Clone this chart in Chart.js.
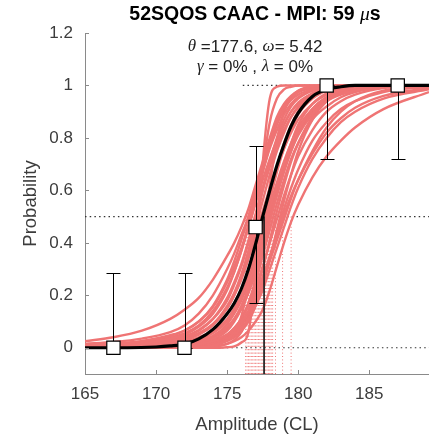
<!DOCTYPE html>
<html>
<head>
<meta charset="utf-8">
<script src="https://cdn.jsdelivr.net/npm/chart.js@4.4.0/dist/chart.umd.min.js"></script>
<style>
  html, body { margin: 0; padding: 0; background: #fff; }
  #wrap { width: 429px; height: 434px; }
</style>
</head>
<body>
<div id="wrap"><canvas id="chartPsych" width="429" height="434"></canvas></div>
<script>
// ---- values ----
const xTicks = [165, 170, 175, 180, 185];
const yTicks = [0, 0.2, 0.4, 0.6, 0.8, 1, 1.2];

// measured points + confidence bars
const levels  = [167, 172, 177, 182, 187];
const hitRate = [0, 0, 0.46, 1, 1];
const ciLow   = [0, 0, 0.17, 0.72, 0.72];
const ciHigh  = [0.285, 0.285, 0.77, 1, 1];

// fitted curve (black)
const fitX = [165, 168, 170, 171, 172, 173, 174, 175, 175.5, 176, 176.5, 177, 177.5, 178, 178.5, 179, 179.5, 180, 181, 182, 183, 184, 186, 189.2];
const fitY = [0, 0, 0.003, 0.007, 0.014, 0.034, 0.07, 0.13, 0.17, 0.225, 0.30, 0.395, 0.50, 0.60, 0.695, 0.775, 0.845, 0.895, 0.958, 0.985, 0.995, 1, 1, 1];
const threshold = 177.6;

// bootstrap curves (red), sampled on a common grid
const bootX = [165, 167, 169, 171, 172, 173, 174, 175, 175.5, 176, 176.5, 177, 177.5, 178, 178.5, 179, 179.5, 180, 181, 182, 183, 184, 186, 189.2];
const boot01 = [0.025, 0.04, 0.065, 0.11, 0.145, 0.19, 0.26, 0.35, 0.4, 0.46, 0.53, 0.62, 0.71, 0.8, 0.88, 0.93, 0.96, 0.98, 0.995, 1, 1, 1, 1, 1];
const boot02 = [0.015, 0.022, 0.035, 0.06, 0.085, 0.13, 0.2, 0.3, 0.36, 0.43, 0.5, 0.59, 0.69, 0.78, 0.86, 0.92, 0.955, 0.975, 0.99, 0.997, 1, 1, 1, 1];
const boot03 = [0.01, 0.015, 0.025, 0.045, 0.065, 0.1, 0.16, 0.26, 0.33, 0.41, 0.5, 0.6, 0.7, 0.79, 0.86, 0.91, 0.945, 0.965, 0.985, 0.995, 1, 1, 1, 1];
const boot04 = [0.005, 0.01, 0.018, 0.035, 0.05, 0.08, 0.13, 0.22, 0.29, 0.37, 0.47, 0.57, 0.67, 0.76, 0.83, 0.89, 0.93, 0.955, 0.98, 0.992, 0.998, 1, 1, 1];
const boot05 = [0.004, 0.008, 0.014, 0.028, 0.04, 0.065, 0.11, 0.19, 0.25, 0.32, 0.41, 0.51, 0.61, 0.7, 0.78, 0.85, 0.9, 0.935, 0.97, 0.988, 0.996, 1, 1, 1];
const boot06 = [0.002, 0.005, 0.01, 0.02, 0.03, 0.05, 0.085, 0.15, 0.2, 0.27, 0.36, 0.46, 0.56, 0.66, 0.75, 0.82, 0.88, 0.92, 0.965, 0.985, 0.995, 1, 1, 1];
const boot07 = [0, 0, 0, 0, 0, 0, 0, 0.002, 0.005, 0.02, 0.06, 0.3, 0.7, 0.95, 0.995, 1, 1, 1, 1, 1, 1, 1, 1, 1];
const boot08 = [0, 0, 0, 0, 0, 0.002, 0.008, 0.03, 0.06, 0.12, 0.25, 0.45, 0.68, 0.86, 0.95, 0.985, 0.995, 1, 1, 1, 1, 1, 1, 1];
const boot09 = [0.003, 0.006, 0.012, 0.025, 0.035, 0.055, 0.09, 0.15, 0.2, 0.26, 0.34, 0.43, 0.52, 0.61, 0.69, 0.76, 0.82, 0.87, 0.93, 0.965, 0.982, 0.991, 0.998, 1];
const boot10 = [0.002, 0.004, 0.008, 0.016, 0.024, 0.04, 0.065, 0.11, 0.15, 0.2, 0.27, 0.35, 0.44, 0.53, 0.62, 0.7, 0.77, 0.83, 0.91, 0.955, 0.978, 0.99, 0.997, 1];
const boot11 = [0.001, 0.002, 0.005, 0.01, 0.015, 0.025, 0.045, 0.08, 0.11, 0.15, 0.21, 0.29, 0.38, 0.48, 0.58, 0.67, 0.75, 0.82, 0.91, 0.955, 0.98, 0.99, 0.997, 1];
const boot12 = [0, 0.001, 0.002, 0.005, 0.008, 0.014, 0.025, 0.05, 0.07, 0.1, 0.14, 0.2, 0.27, 0.35, 0.43, 0.51, 0.58, 0.64, 0.74, 0.82, 0.875, 0.915, 0.96, 0.99];
const boot13 = [0, 0, 0, 0.001, 0.001, 0.002, 0.005, 0.015, 0.025, 0.04, 0.065, 0.1, 0.145, 0.22, 0.31, 0.4, 0.48, 0.545, 0.65, 0.73, 0.79, 0.84, 0.91, 0.975];
const boot14 = [0, 0, 0.001, 0.003, 0.006, 0.012, 0.025, 0.05, 0.075, 0.11, 0.16, 0.23, 0.31, 0.4, 0.49, 0.58, 0.66, 0.73, 0.83, 0.9, 0.94, 0.965, 0.99, 1];
const boot15 = [0, 0, 0, 0.002, 0.004, 0.009, 0.02, 0.045, 0.07, 0.11, 0.17, 0.26, 0.37, 0.49, 0.6, 0.7, 0.78, 0.85, 0.93, 0.97, 0.988, 0.996, 1, 1];
const boot16 = [0.001, 0.003, 0.006, 0.012, 0.018, 0.03, 0.055, 0.1, 0.14, 0.19, 0.27, 0.37, 0.48, 0.59, 0.69, 0.78, 0.85, 0.9, 0.96, 0.985, 0.995, 1, 1, 1];
const boot17 = [0, 0.001, 0.003, 0.007, 0.011, 0.02, 0.038, 0.075, 0.11, 0.16, 0.23, 0.33, 0.44, 0.56, 0.67, 0.76, 0.83, 0.89, 0.95, 0.98, 0.993, 1, 1, 1];
const boot18 = [0, 0, 0.001, 0.004, 0.007, 0.014, 0.03, 0.065, 0.1, 0.15, 0.22, 0.31, 0.41, 0.51, 0.6, 0.68, 0.75, 0.81, 0.89, 0.94, 0.965, 0.98, 0.995, 1];
const boot19 = [0, 0, 0.001, 0.003, 0.005, 0.01, 0.02, 0.04, 0.06, 0.09, 0.14, 0.21, 0.3, 0.41, 0.52, 0.62, 0.71, 0.78, 0.88, 0.94, 0.97, 0.985, 0.997, 1];
const boot20 = [0.006, 0.012, 0.022, 0.04, 0.055, 0.085, 0.14, 0.23, 0.29, 0.37, 0.46, 0.56, 0.67, 0.77, 0.85, 0.91, 0.95, 0.975, 0.993, 1, 1, 1, 1, 1];
const boot21 = [0.008, 0.014, 0.025, 0.048, 0.066, 0.1, 0.155, 0.25, 0.31, 0.38, 0.46, 0.55, 0.64, 0.72, 0.79, 0.85, 0.9, 0.93, 0.97, 0.988, 0.996, 1, 1, 1];
const boot22 = [0.001, 0.002, 0.004, 0.009, 0.014, 0.024, 0.045, 0.09, 0.13, 0.18, 0.25, 0.34, 0.44, 0.54, 0.63, 0.71, 0.78, 0.84, 0.91, 0.95, 0.975, 0.988, 0.997, 1];
const boot23 = [0, 0, 0.001, 0.002, 0.004, 0.008, 0.016, 0.035, 0.05, 0.075, 0.11, 0.16, 0.22, 0.3, 0.38, 0.46, 0.54, 0.61, 0.72, 0.8, 0.86, 0.9, 0.95, 0.985];
const boot24 = [0, 0, 0, 0.001, 0.002, 0.005, 0.012, 0.03, 0.045, 0.07, 0.11, 0.17, 0.25, 0.34, 0.44, 0.53, 0.61, 0.68, 0.79, 0.86, 0.91, 0.94, 0.975, 0.995];
const boot25 = [0, 0, 0.001, 0.003, 0.005, 0.01, 0.022, 0.05, 0.075, 0.11, 0.17, 0.25, 0.35, 0.45, 0.55, 0.64, 0.72, 0.78, 0.87, 0.92, 0.955, 0.975, 0.993, 1];
const boot26 = [0.001, 0.002, 0.004, 0.008, 0.012, 0.02, 0.038, 0.075, 0.105, 0.15, 0.21, 0.29, 0.39, 0.49, 0.59, 0.68, 0.76, 0.82, 0.9, 0.945, 0.97, 0.985, 0.997, 1];
const boot27 = [0, 0, 0, 0.001, 0.002, 0.004, 0.01, 0.025, 0.04, 0.065, 0.1, 0.16, 0.24, 0.34, 0.45, 0.56, 0.66, 0.75, 0.87, 0.94, 0.975, 0.99, 1, 1];
const boot28 = [0.002, 0.004, 0.008, 0.015, 0.022, 0.036, 0.06, 0.105, 0.14, 0.19, 0.26, 0.35, 0.46, 0.57, 0.68, 0.77, 0.845, 0.9, 0.96, 0.985, 0.995, 1, 1, 1];
const boot29 = [0, 0, 0, 0, 0, 0.001, 0.004, 0.015, 0.03, 0.06, 0.12, 0.24, 0.42, 0.62, 0.79, 0.9, 0.955, 0.98, 0.997, 1, 1, 1, 1, 1];
const boot30 = [0.003, 0.006, 0.012, 0.024, 0.034, 0.054, 0.09, 0.16, 0.21, 0.28, 0.37, 0.48, 0.6, 0.71, 0.8, 0.87, 0.92, 0.95, 0.98, 0.993, 1, 1, 1, 1];
const boot31 = [0, 0.001, 0.002, 0.004, 0.006, 0.011, 0.02, 0.04, 0.058, 0.085, 0.125, 0.18, 0.25, 0.33, 0.41, 0.49, 0.57, 0.64, 0.75, 0.84, 0.9, 0.94, 0.98, 0.997];
const boot32 = [0.004, 0.008, 0.015, 0.03, 0.043, 0.068, 0.11, 0.18, 0.24, 0.31, 0.4, 0.5, 0.6, 0.69, 0.77, 0.83, 0.88, 0.915, 0.96, 0.982, 0.993, 0.998, 1, 1];
const bootCurves = [boot01, boot02, boot03, boot04, boot05, boot06, boot07, boot08, boot09, boot10, boot11,
                    boot12, boot13, boot14, boot15, boot16, boot17, boot18, boot19, boot20, boot21, boot22,
                    boot23, boot24, boot25, boot26, boot27, boot28, boot29, boot30, boot31, boot32];

// thresholds of the bootstrap fits (red dotted verticals)
const bootThresholds = [176.3, 176.4, 176.5, 176.6, 176.7, 176.8, 176.9, 177.0, 177.1, 177.2, 177.3, 177.4,
                        177.5, 177.6, 177.7, 177.8, 177.9, 178.0, 178.1, 178.2, 178.4, 178.9, 179.5];

// ---- styles ----
const sans = "'Liberation Sans', Arial, Helvetica, sans-serif";
const serif = "'Liberation Serif', 'DejaVu Serif', serif";
const axisGray = '#8a8a8a';
const labelGray = '#3c3c3c';
const red = '#EF7474';

const pts = (xs, ys) => xs.map((x, i) => ({ x: x, y: ys[i] }));
const vline = (x, color, width, dash) => ({
    data: [{ x: x, y: 0.5 }, { x: x, y: -0.1 }],
    borderColor: color, borderWidth: width, borderDash: dash || [], pointRadius: 0
});
const hline = (y, x0) => ({
    data: [{ x: x0, y: y }, { x: 189.2, y: y }],
    borderColor: '#333', borderWidth: 1.2, borderDash: [1.5, 3.2], pointRadius: 0
});

function richLine(ctx, parts, cx, cy) {
    let total = 0;
    parts.forEach(p => { ctx.font = p.f; p.w = ctx.measureText(p.t).width; total += p.w; });
    let x = cx - total / 2;
    ctx.textAlign = 'left';
    ctx.textBaseline = 'middle';
    parts.forEach(p => { ctx.font = p.f; ctx.fillText(p.t, x, cy); x += p.w; });
}

// error bars: drawn right after the black fit, before the squares
const errorBars = {
    id: 'errorBars',
    afterDatasetDraw(chart, args) {
        if (args.index !== 1) return;
        const { ctx, scales: { x, y } } = chart;
        ctx.save();
        ctx.strokeStyle = '#000';
        ctx.lineWidth = 1;
        levels.forEach((lv, i) => {
            const px = Math.round(x.getPixelForValue(lv)) + 0.5;
            const lo = Math.round(y.getPixelForValue(ciLow[i])) + 0.5;
            const hi = Math.round(y.getPixelForValue(ciHigh[i])) + 0.5;
            ctx.beginPath();
            ctx.moveTo(px, lo); ctx.lineTo(px, hi);
            ctx.moveTo(px - 7, lo); ctx.lineTo(px + 7, lo);
            ctx.moveTo(px - 7, hi); ctx.lineTo(px + 7, hi);
            ctx.stroke();
        });
        ctx.restore();
    }
};

// inward tick marks + title + parameter text
const decorations = {
    id: 'decorations',
    afterDraw(chart) {
        const { ctx, chartArea: a, scales: { x, y } } = chart;
        ctx.save();
        ctx.strokeStyle = axisGray;
        ctx.lineWidth = 1;
        ctx.beginPath();
        yTicks.forEach(v => {
            const py = Math.round(y.getPixelForValue(v)) + 0.5;
            ctx.moveTo(a.left, py); ctx.lineTo(a.left + 4, py);
        });
        xTicks.forEach(v => {
            const px = Math.round(x.getPixelForValue(v)) + 0.5;
            ctx.moveTo(px, a.bottom); ctx.lineTo(px, a.bottom - 4);
        });
        ctx.stroke();

        const cx = (a.left + a.right) / 2 - 2;
        ctx.fillStyle = '#000';
        richLine(ctx, [
            { t: '52SQOS CAAC - MPI: 59 ', f: 'bold 19.5px ' + sans },
            { t: 'μ', f: 'italic 19.5px ' + serif },
            { t: 's', f: 'bold 19.5px ' + sans }
        ], cx, 15);
        ctx.fillStyle = '#222';
        richLine(ctx, [
            { t: 'θ', f: 'italic 17px ' + serif },
            { t: ' =177.6, ', f: '17px ' + sans },
            { t: 'ω', f: 'italic 17px ' + serif },
            { t: '= 5.42', f: '17px ' + sans }
        ], cx, 47);
        richLine(ctx, [
            { t: 'γ', f: 'italic 17px ' + serif },
            { t: ' = 0% , ', f: '17px ' + sans },
            { t: 'λ', f: 'italic 17px ' + serif },
            { t: ' = 0%', f: '17px ' + sans }
        ], cx, 67);
        ctx.restore();
    }
};

const datasets = [
    {   // measured proportions
        data: pts(levels, hitRate), showLine: false, pointStyle: 'rect', pointRadius: 9.4,
        pointBackgroundColor: '#fff', pointBorderColor: '#000', pointBorderWidth: 1.2
    },
    {   // best fit
        data: pts(fitX, fitY), borderColor: '#000', borderWidth: 3.2, pointRadius: 0,
        cubicInterpolationMode: 'monotone'
    },
    vline(threshold, '#222', 1)
];
bootCurves.forEach(c => datasets.push({
    data: pts(bootX, c), borderColor: red, borderWidth: 2.4, pointRadius: 0,
    cubicInterpolationMode: 'monotone'
}));
bootThresholds.forEach(t => datasets.push(vline(t, 'rgba(232,70,70,0.75)', 1, [1, 2.4])));
datasets.push(hline(1, 176.1), hline(0.5, 165), hline(0, 172));

new Chart(document.getElementById('chartPsych').getContext('2d'), {
    type: 'line',
    data: { datasets: datasets },
    options: {
        responsive: false,
        animation: false,
        devicePixelRatio: 1,
        layout: { padding: { top: 33, right: 0, bottom: 0, left: 0 }, autoPadding: false },
        plugins: { legend: { display: false }, tooltip: { enabled: false } },
        scales: {
            x: {
                type: 'linear', min: 165, max: 189.2,
                afterBuildTicks: s => { s.ticks = xTicks.map(v => ({ value: v })); },
                afterFit: s => { s.height = 60; },
                grid: { display: false, drawTicks: false },
                border: { display: true, color: axisGray, width: 1 },
                ticks: { padding: 10, color: labelGray, autoSkip: false, maxRotation: 0,
                         font: { family: sans, size: 17 }, callback: v => String(v) },
                title: { display: true, text: 'Amplitude (CL)', color: labelGray,
                         font: { family: sans, size: 18.5 }, padding: { top: 0, bottom: -2 } }
            },
            y: {
                type: 'linear', min: -0.1, max: 1.2,
                afterBuildTicks: s => { s.ticks = yTicks.map(v => ({ value: v })); },
                afterFit: s => { s.width = 85; },
                grid: { display: false, drawTicks: false },
                border: { display: true, color: axisGray, width: 1 },
                ticks: { padding: 12, color: labelGray, autoSkip: false,
                         font: { family: sans, size: 17 }, callback: v => String(v) },
                title: { display: true, text: 'Probability', color: labelGray,
                         font: { family: sans, size: 18.5 }, padding: { top: 20, bottom: 0 } }
            }
        }
    },
    plugins: [errorBars, decorations]
});
</script>
</body>
</html>
